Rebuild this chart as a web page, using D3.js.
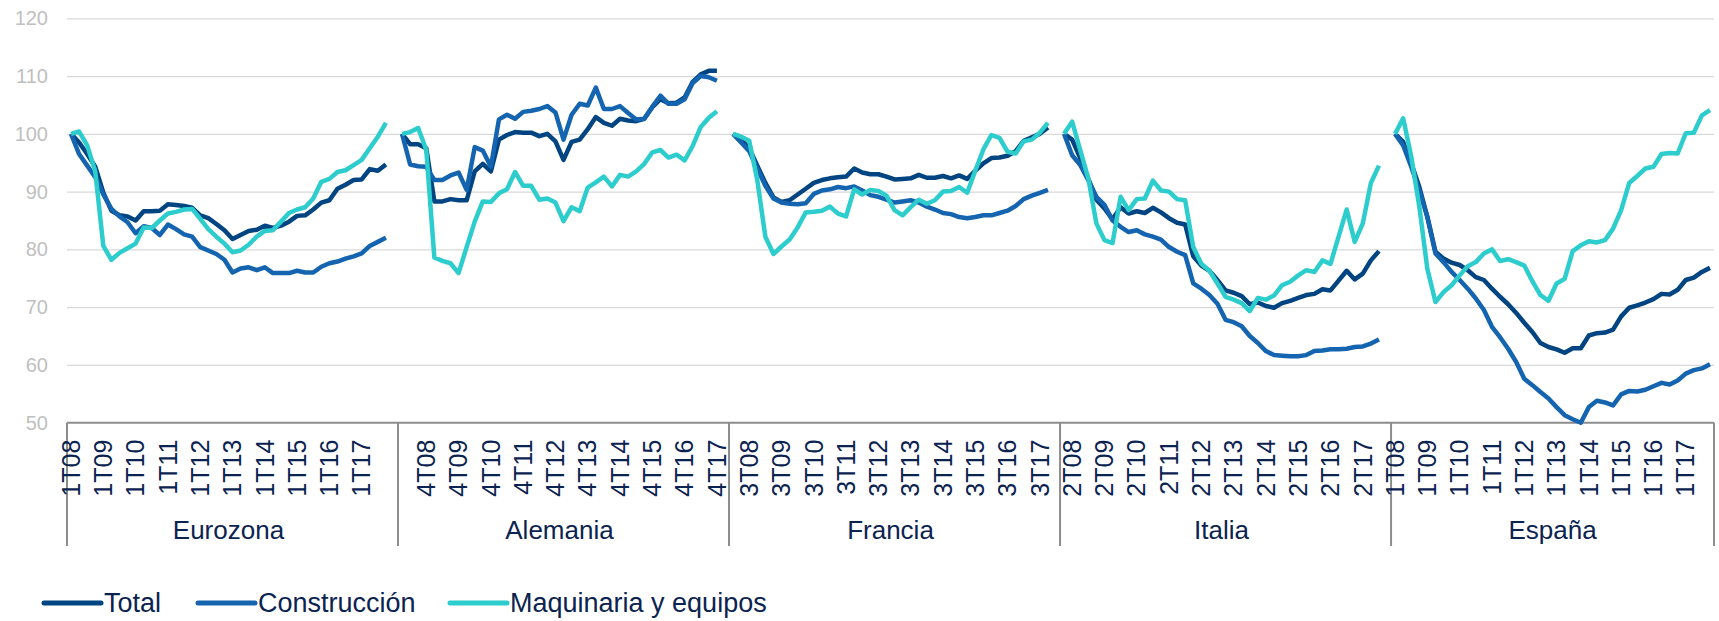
<!DOCTYPE html>
<html>
<head>
<meta charset="utf-8">
<script src="https://cdn.jsdelivr.net/npm/d3@7"></script>
<style>
  body { margin: 0; background: #fff; }
  svg { display: block; font-family: "Liberation Sans", Arial, sans-serif; }
  .grid line { stroke: #d9d9d9; stroke-width: 1.3; }
  .grid .domain { display: none; }
  .ylab text { fill: #bfbfbf; font-size: 20px; }
  .xlab text { fill: #0b2350; font-size: 25px; }
  .xlab .domain { display: none; }
  .group-label { fill: #0b2350; font-size: 26px; }
  .legend text { fill: #0b2350; font-size: 27px; }
</style>
</head>
<body>
<svg id="chart" width="1719" height="621"></svg>
<script>
// categories
const countries = ["Eurozona", "Alemania", "Francia", "Italia", "España"];
const quarterLabels = [
  "1T08", "2T08", "3T08", "4T08", "1T09", "2T09", "3T09", "4T09",
  "1T10", "2T10", "3T10", "4T10", "1T11", "2T11", "3T11", "4T11",
  "1T12", "2T12", "3T12", "4T12", "1T13", "2T13", "3T13", "4T13",
  "1T14", "2T14", "3T14", "4T14", "1T15", "2T15", "3T15", "4T15",
  "1T16", "2T16", "3T16", "4T16", "1T17", "2T17", "3T17", "4T17"
];
const seriesNames = ["Total", "Construcción", "Maquinaria y equipos"];
const seriesColors = ["#004481", "#1464b0", "#2dcccd"];
const yTicks = [50, 60, 70, 80, 90, 100, 110, 120];

// values, one list per country and series (index 100 = 1T08)
const totalEurozona = [100, 98.5, 96.5, 94.3, 89.8, 86.7, 85.9, 85.7, 85, 86.6, 86.6, 86.7, 87.8, 87.7, 87.5, 87.2, 85.9, 85.4, 84.4, 83.3, 81.8, 82.5, 83.2, 83.4, 84.1, 83.7, 84.1, 84.8, 85.8, 85.9, 86.9, 88.1, 88.5, 90.5, 91.2, 92, 92.1, 93.9, 93.6, 94.7];
const construccionEurozona = [100, 96.5, 94.5, 92.5, 89.5, 87, 85.7, 84.7, 82.8, 84, 83.7, 82.5, 84.3, 83.5, 82.6, 82.2, 80.4, 79.8, 79.2, 78.2, 76, 76.7, 76.9, 76.4, 76.9, 75.9, 75.9, 75.9, 76.3, 76, 76, 77, 77.6, 77.9, 78.4, 78.8, 79.3, 80.6, 81.3, 82];
const maquinariaEurozona = [100, 100.4, 98, 93.5, 80.6, 78.2, 79.4, 80.2, 81, 83.8, 83.7, 85, 86.2, 86.5, 86.9, 87, 85.3, 83.5, 82.2, 81, 79.5, 79.8, 80.8, 82.2, 83.2, 83.3, 84.8, 86.3, 86.9, 87.3, 88.8, 91.7, 92.2, 93.4, 93.7, 94.6, 95.5, 97.5, 99.5, 101.9];

const totalAlemania = [100, 98.2, 98.2, 97.5, 88.3, 88.3, 88.7, 88.5, 88.5, 93.5, 94.8, 93.5, 99, 99.8, 100.3, 100.2, 100.2, 99.6, 100, 98.7, 95.5, 98.6, 99, 100.8, 102.9, 101.9, 101.4, 102.6, 102.3, 102.2, 102.6, 104.6, 106, 105.3, 105.4, 106.3, 109, 110.3, 110.9, 110.9];
const construccionAlemania = [100, 94.7, 94.4, 94.3, 92, 92, 92.8, 93.3, 90.3, 97.7, 97.1, 94.3, 102.5, 103.3, 102.6, 103.8, 104, 104.3, 104.8, 103.7, 99, 103.3, 105.2, 104.9, 108, 104.3, 104.3, 104.8, 103.6, 102.5, 102.6, 104.7, 106.6, 105.2, 105.2, 106, 108.8, 110, 109.8, 109.2];
const maquinariaAlemania = [100, 100.3, 101, 97.2, 78.6, 78, 77.6, 75.9, 80.4, 84.8, 88.3, 88.2, 89.7, 90.4, 93.4, 91, 91, 88.6, 88.8, 88.1, 84.9, 87.3, 86.6, 90.7, 91.6, 92.6, 90.9, 92.9, 92.6, 93.5, 94.8, 96.8, 97.2, 95.9, 96.4, 95.4, 97.9, 101.2, 102.8, 103.9];

const totalFrancia = [100, 99, 97.5, 94.5, 91.5, 89, 88.2, 88.5, 89.5, 90.5, 91.5, 92, 92.3, 92.5, 92.6, 94, 93.3, 93, 93, 92.6, 92.1, 92.2, 92.3, 92.9, 92.4, 92.4, 92.7, 92.3, 92.8, 92.2, 93.6, 94.9, 95.8, 95.9, 96.2, 97, 98.8, 99.4, 100, 101.1];
const construccionFrancia = [100, 98.5, 97, 94, 91, 88.8, 88.1, 87.9, 87.8, 88, 89.6, 90.2, 90.4, 90.8, 90.6, 90.9, 90.2, 89.4, 89.1, 88.6, 88.1, 88.3, 88.5, 88.1, 87.4, 86.9, 86.3, 86.1, 85.6, 85.4, 85.6, 85.9, 85.9, 86.3, 86.7, 87.5, 88.7, 89.3, 89.8, 90.3];
const maquinariaFrancia = [100, 99.5, 98.8, 92, 82.2, 79.2, 80.5, 81.7, 83.8, 86.4, 86.5, 86.7, 87.4, 86.2, 85.7, 90.4, 89.5, 90.3, 90.1, 89.3, 86.8, 85.9, 87.3, 88.6, 87.9, 88.5, 90, 90.1, 90.8, 89.8, 93.6, 97.3, 99.8, 99.3, 96.9, 96.6, 98.7, 99, 100.2, 101.9];

const totalItalia = [100, 99, 95.8, 92.2, 88.6, 87.1, 85.2, 87.3, 86.2, 86.6, 86.3, 87.2, 86.4, 85.4, 84.6, 84.3, 78.8, 77.2, 76.3, 74.7, 72.9, 72.5, 71.9, 70.5, 70.8, 70.2, 69.9, 70.7, 71.1, 71.6, 72.1, 72.3, 73.1, 72.9, 74.6, 76.3, 74.8, 75.8, 78.1, 79.7];
const construccionItalia = [100, 96.3, 94.6, 92, 89.1, 87.7, 85, 83.9, 83, 83.3, 82.6, 82.2, 81.7, 80.4, 79.6, 79, 74.1, 73.2, 72.1, 70.6, 67.8, 67.4, 66.7, 65, 63.8, 62.4, 61.7, 61.6, 61.5, 61.5, 61.7, 62.4, 62.5, 62.7, 62.7, 62.8, 63.1, 63.2, 63.7, 64.4];
const maquinariaItalia = [100, 102.1, 97.2, 92.3, 84.5, 81.6, 81.1, 89.1, 86.8, 88.7, 88.8, 91.9, 90.2, 90, 88.7, 88.5, 80.4, 77.5, 76.3, 74.1, 71.8, 71.3, 70.7, 69.3, 71.6, 71.3, 72, 73.8, 74.4, 75.5, 76.4, 76.1, 78.1, 77.5, 82.2, 86.9, 81.3, 84.5, 91.5, 94.5];

const totalEspana = [100, 98.6, 94.9, 90.8, 85.6, 79.6, 78.4, 77.7, 77.3, 76.4, 75.2, 74.7, 73.2, 71.8, 70.5, 69, 67.3, 65.7, 63.8, 63.1, 62.7, 62.1, 62.9, 62.9, 65.1, 65.5, 65.6, 66.1, 68.4, 69.9, 70.3, 70.8, 71.4, 72.3, 72.2, 73, 74.7, 75.1, 76.1, 76.8];
const construccionEspana = [100, 98, 94.3, 90.2, 85.6, 79.3, 77.8, 76.1, 74.7, 73.2, 71.5, 69.5, 66.6, 64.8, 62.8, 60.5, 57.6, 56.5, 55.3, 54.2, 52.7, 51.3, 50.6, 50, 52.7, 53.8, 53.5, 53, 54.9, 55.5, 55.4, 55.7, 56.3, 56.9, 56.6, 57.3, 58.5, 59.1, 59.4, 60.1];
const maquinariaEspana = [100, 102.7, 96.1, 87.4, 76.6, 70.9, 72.6, 73.8, 75.5, 77.1, 77.8, 79.3, 80, 78, 78.3, 77.8, 77.2, 74.5, 72.1, 71.1, 74.1, 74.9, 79.7, 80.7, 81.4, 81.2, 81.6, 83.6, 86.8, 91.5, 92.7, 94, 94.3, 96.5, 96.7, 96.6, 100.1, 100.2, 103.2, 104.1];

const seriesByCountry = [
  [totalEurozona, construccionEurozona, maquinariaEurozona],
  [totalAlemania, construccionAlemania, maquinariaAlemania],
  [totalFrancia, construccionFrancia, maquinariaFrancia],
  [totalItalia, construccionItalia, maquinariaItalia],
  [totalEspana, construccionEspana, maquinariaEspana]
];

// one long category axis: 40 quarters per country, an empty slot between countries
let keys = [];
countries.forEach((c, g) => {
  quarterLabels.forEach(q => keys.push(c + "|" + q));
  if (g < countries.length - 1) keys.push("gap" + g);
});

const svg = d3.select("#chart");
const plotLeft = 67, plotRight = 1714, plotTop = 18.3, axisY = 422.7;

let x = d3.scaleBand().domain(keys).range([plotLeft, plotRight]).padding(0);
let y = d3.scaleLinear().domain([50, 120]).range([axisY, plotTop]);
let xc = k => x(k) + x.bandwidth() / 2;

// gridlines
svg.append("g").attr("class", "grid")
    .attr("transform", `translate(${plotLeft},0)`)
    .call(d3.axisLeft(y).tickValues(yTicks.slice(1)).tickSize(-(plotRight - plotLeft)).tickFormat(""));

// y labels
let ylab = svg.append("g").attr("class", "ylab")
    .attr("transform", `translate(${plotLeft},0)`)
    .call(d3.axisLeft(y).tickValues(yTicks).tickSize(0).tickPadding(19));
ylab.select(".domain").remove();

// category axis line and group dividers
svg.append("line").attr("x1", plotLeft).attr("x2", plotRight).attr("y1", axisY).attr("y2", axisY)
    .attr("stroke", "#8c8c8c").attr("stroke-width", 2);

let dividers = countries.map(c => x(c + "|" + quarterLabels[0])).concat([plotRight]);
svg.selectAll(".divider").data(dividers).enter().append("line")
    .attr("class", "divider")
    .attr("x1", d => d).attr("x2", d => d)
    .attr("y1", axisY).attr("y2", 546)
    .attr("stroke", "#8c8c8c").attr("stroke-width", 2);

// quarter labels, every fourth slot of the whole axis
let tickKeys = keys.filter((k, i) => i % 4 === 0 && !k.startsWith("gap"));
let xlab = svg.append("g").attr("class", "xlab")
    .attr("transform", `translate(0,${axisY})`)
    .call(d3.axisBottom(x).tickValues(tickKeys).tickSize(0).tickFormat(k => k.split("|")[1]));
xlab.selectAll("text")
    .attr("transform", "rotate(-90)")
    .attr("text-anchor", "end")
    .attr("x", -17).attr("y", 0).attr("dy", "0.35em");

// country labels
svg.selectAll(".group-label").data(countries).enter().append("text")
    .attr("class", "group-label")
    .attr("text-anchor", "middle")
    .attr("x", c => (x(c + "|" + quarterLabels[0]) + x(c + "|" + quarterLabels[39]) + x.bandwidth()) / 2)
    .attr("y", 539)
    .text(c => c);

// lines
let line = d3.line()
    .x(d => xc(d.key))
    .y(d => y(d.value));

seriesNames.forEach((s, si) => {
  countries.forEach((c, g) => {
    let pts = seriesByCountry[g][si].map((v, i) => ({ key: c + "|" + quarterLabels[i], value: v }));
    svg.append("path").datum(pts)
        .attr("fill", "none")
        .attr("stroke", seriesColors[si])
        .attr("stroke-width", 4.5)
        .attr("stroke-linejoin", "round")
        .attr("d", line);
  });
});

// legend
const legendX = [44, 198, 450];
let legend = svg.append("g").attr("class", "legend");
seriesNames.forEach((s, i) => {
  legend.append("line")
      .attr("x1", legendX[i]).attr("x2", legendX[i] + 57)
      .attr("y1", 603).attr("y2", 603)
      .attr("stroke", seriesColors[i]).attr("stroke-width", 5)
      .attr("stroke-linecap", "round");
  legend.append("text")
      .attr("x", legendX[i] + 60).attr("y", 612)
      .text(s);
});
</script>
</body>
</html>
